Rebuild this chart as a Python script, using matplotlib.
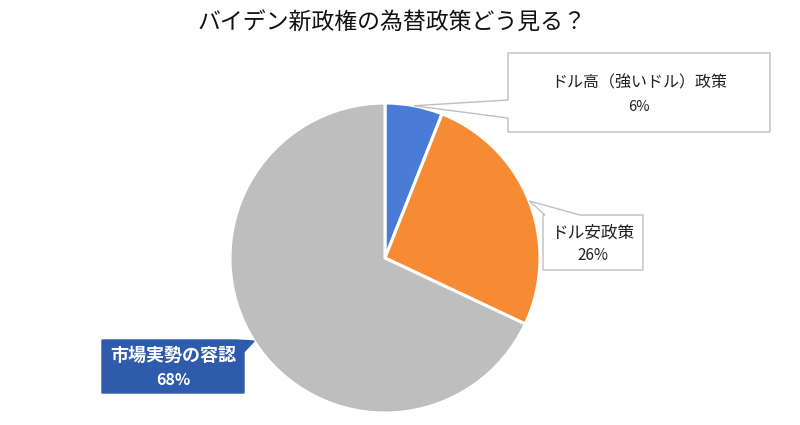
import matplotlib.pyplot as plt
from matplotlib.patches import Polygon

plt.rcParams['font.family'] = ['Noto Sans CJK JP', 'DejaVu Sans']

title = 'バイデン新政権の為替政策どう見る？'
labels = ['ドル高（強いドル）政策', 'ドル安政策', '市場実勢の容認']
values = [6, 26, 68]
colors = ['#4A7BD6', '#F68B33', '#BEBEBE']

W, H = 800, 425
cx, cy, r = 385, 258, 155


def fy(y):
    return H - y


fig = plt.figure(figsize=(8, 4.25), dpi=100)
ax = fig.add_axes([0, 0, 1, 1])
ax.set_xlim(0, W)
ax.set_ylim(0, H)
ax.set_aspect('equal')
ax.axis('off')

wedges, _ = ax.pie(values, colors=colors, startangle=90, counterclock=False,
                   center=(cx, fy(cy)), radius=r,
                   wedgeprops=dict(edgecolor='white', linewidth=2.2))
ax.set_xlim(0, W)
ax.set_ylim(0, H)

import numpy as np
tips = []
for w in wedges:
    a = np.deg2rad((w.theta1 + w.theta2) / 2)
    tips.append((w.center[0] + r * np.cos(a), w.center[1] + r * np.sin(a)))

# callout shapes (pixel coords, y down) with pointer to the wedge
def callout(pts, tip_idx, tip, fc, ec):
    verts = [(x, fy(y)) for x, y in pts]
    verts.insert(tip_idx, tip)
    ax.add_patch(Polygon(verts, closed=True, facecolor=fc, edgecolor=ec,
                         linewidth=1.0, zorder=5))

callout([(508, 53), (770, 53), (770, 132), (508, 132), (508, 118), (508, 100)],
        5, tips[0], 'white', '#BFBFBF')
callout([(543, 215), (545, 215), (580, 215), (643, 215), (643, 270), (543, 270)],
        2, tips[1], 'white', '#BFBFBF')
callout([(102, 340), (236, 340), (244, 352), (244, 393), (102, 393)],
        2, tips[2], '#2F5BAC', '#2F5BAC')

ax.text(639, fy(83), labels[0], ha='center', va='center', fontsize=11.5, color='#222222', zorder=6)
ax.text(639, fy(107), f'{values[0]}%', ha='center', va='center', fontsize=10.5, color='#222222', zorder=6)
ax.text(593, fy(233), labels[1], ha='center', va='center', fontsize=12, color='#222222', zorder=6)
ax.text(593, fy(256), f'{values[1]}%', ha='center', va='center', fontsize=11, color='#222222', zorder=6)
ax.text(173, fy(355), labels[2], ha='center', va='center', fontsize=13, color='white',
        fontweight='bold', zorder=6)
ax.text(173, fy(380), f'{values[2]}%', ha='center', va='center', fontsize=11.5, color='white',
        fontweight='bold', zorder=6)

ax.text(392, fy(22), title, ha='center', va='center', fontsize=16.5, color='#111111')

fig.savefig('out.png', dpi=100, facecolor='white')
